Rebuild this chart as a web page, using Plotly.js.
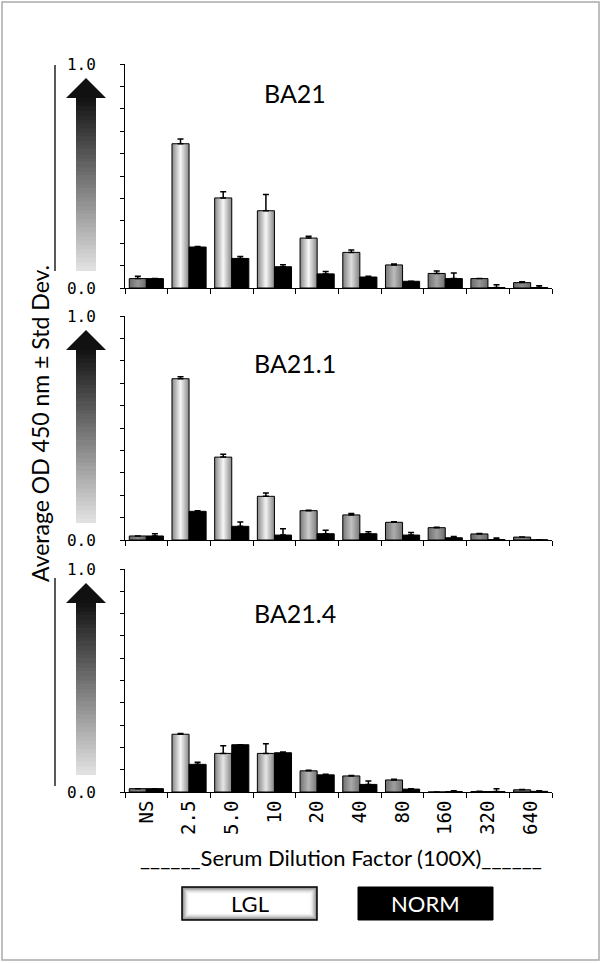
<!DOCTYPE html>
<html>
<head>
<meta charset="utf-8">
<script src="https://cdn.plot.ly/plotly-3.0.1.min.js"></script>
<style>
  body { margin: 0; background: #fff; }
  #plot { width: 601px; height: 963px; }
</style>
</head>
<body>
<div id="plot"></div>
<script>
// dilution categories (x axis)
let dilutions = ['NS', '2.5', '5.0', '10', '20', '40', '80', '160', '320', '640']

// BA21
let lglBA21 = [0.042, 0.644, 0.402, 0.345, 0.223, 0.159, 0.103, 0.065, 0.042, 0.024]
let lglBA21Sd = [0.010, 0.021, 0.028, 0.072, 0.008, 0.011, 0.004, 0.011, 0.0, 0.004]
let normBA21 = [0.042, 0.183, 0.132, 0.095, 0.063, 0.049, 0.030, 0.042, 0.002, 0.002]
let normBA21Sd = [0.0, 0.002, 0.009, 0.009, 0.011, 0.003, 0.0, 0.025, 0.013, 0.008]

// BA21.1
let lglBA211 = [0.018, 0.720, 0.370, 0.195, 0.131, 0.112, 0.079, 0.055, 0.027, 0.013]
let lglBA211Sd = [0.0, 0.009, 0.013, 0.015, 0.002, 0.006, 0.002, 0.002, 0.002, 0.0]
let normBA211 = [0.018, 0.128, 0.061, 0.022, 0.028, 0.028, 0.022, 0.010, 0.002, 0.001]
let normBA211Sd = [0.010, 0.003, 0.019, 0.028, 0.015, 0.009, 0.011, 0.006, 0.007, 0.0]

// BA21.4
let lglBA214 = [0.015, 0.259, 0.173, 0.173, 0.095, 0.072, 0.054, 0.0, 0.002, 0.010]
let lglBA214Sd = [0.0, 0.003, 0.034, 0.043, 0.003, 0.002, 0.003, 0.0, 0.001, 0.001]
let normBA214 = [0.015, 0.124, 0.212, 0.176, 0.077, 0.034, 0.013, 0.002, 0.002, 0.003]
let normBA214Sd = [0.0, 0.009, 0.0, 0.003, 0.003, 0.015, 0.002, 0.004, 0.013, 0.003]

let panelNames = ['BA21', 'BA21.1', 'BA21.4']
let yTickVals = [0, 0.1, 0.2, 0.3, 0.4, 0.5, 0.6, 0.7, 0.8, 0.9, 1.0]
let yTickText = ['0.0', '', '', '', '', '', '', '', '', '', '1.0']

// lgl bars get a sentinel colour, replaced with a gradient after drawing
let LGL_COLOR = 'rgb(221, 221, 221)'
let zeros = dilutions.map(d => 0)

function barTrace(values, sd, color, xa, ya) {
    return {
        type: 'bar',
        x: dilutions,
        y: values,
        xaxis: xa,
        yaxis: ya,
        marker: { color: color, line: { color: '#000', width: 1 } },
        error_y: { type: 'data', symmetric: false, array: sd, arrayminus: zeros,
                   color: '#000', thickness: 1.5, width: 3 },
        showlegend: false,
        hoverinfo: 'none'
    }
}

let data = [
    barTrace(lglBA21, lglBA21Sd, LGL_COLOR, 'x', 'y'),
    barTrace(normBA21, normBA21Sd, '#000', 'x', 'y'),
    barTrace(lglBA211, lglBA211Sd, LGL_COLOR, 'x2', 'y2'),
    barTrace(normBA211, normBA211Sd, '#000', 'x2', 'y2'),
    barTrace(lglBA214, lglBA214Sd, LGL_COLOR, 'x3', 'y3'),
    barTrace(normBA214, normBA214Sd, '#000', 'x3', 'y3')
]

// pixel helpers (plot area 125..552 x 64..792)
let L = 125, R = 49, T = 64, B = 171, W = 601, H = 963
let pw = W - L - R, ph = H - T - B
let px = v => (v - L) / pw
let py = v => (H - B - v) / ph

let panelTop = [64, 316, 569]
let panelBottom = [288, 540, 792]

function xAxis(anchor, labels) {
    return {
        type: 'category', anchor: anchor, domain: [0, 1],
        showline: true, linecolor: '#000', linewidth: 1,
        ticks: 'outside', ticklen: 5, tickcolor: '#000', tickson: 'boundaries',
        showticklabels: labels, tickangle: -90,
        tickfont: { family: 'DejaVu Sans Mono', size: 19, color: '#000' },
        showgrid: false, zeroline: false, fixedrange: true
    }
}

function yAxis(anchor, i) {
    return {
        anchor: anchor, range: [0, 1],
        domain: [py(panelBottom[i]), py(panelTop[i])],
        showline: true, linecolor: '#000', linewidth: 1,
        ticks: 'outside', ticklen: 4, tickcolor: '#000',
        tickvals: yTickVals, ticktext: yTickText, ticklabelstandoff: 21,
        tickfont: { family: 'DejaVu Sans Mono', size: 16, color: '#000' },
        showgrid: false, zeroline: false, fixedrange: true
    }
}

let shapes = []
let annotations = []

function label(x, y, text, size, color, angle) {
    annotations.push({
        xref: 'paper', yref: 'paper', x: px(x), y: py(y),
        xanchor: 'center', yanchor: 'middle',
        text: text, showarrow: false, textangle: angle || 0,
        font: { family: 'Lato', size: size, color: color }
    })
}

// gradient arrows next to each y axis
for (let i = 0; i < 3; i++) {
    let tip = panelTop[i] + 14
    let headBase = panelTop[i] + 34
    let shaftBottom = panelBottom[i] - 17
    let n = 40
    let step = (shaftBottom - headBase) / n
    for (let k = 0; k < n; k++) {
        let t = k / (n - 1)
        let g = Math.round(225 - t * 205)
        let c = 'rgb(' + g + ',' + g + ',' + g + ')'
        let y0 = shaftBottom - k * step
        shapes.push({
            type: 'rect', xref: 'paper', yref: 'paper',
            x0: px(76), x1: px(96), y0: py(y0), y1: py(y0 - step - 0.6),
            fillcolor: c, line: { width: 0 }, layer: 'above'
        })
    }
    shapes.push({
        type: 'path', xref: 'paper', yref: 'paper',
        path: 'M ' + px(66) + ' ' + py(headBase) + ' L ' + px(86) + ' ' + py(tip) +
              ' L ' + px(106) + ' ' + py(headBase) + ' Z',
        fillcolor: '#111', line: { width: 0 }
    })
    label(295, [93, 363, 613][i], panelNames[i], 25, '#000')
}

// y title with its underline strokes
label(40, 424, 'Average OD 450 nm ± Std Dev.', 23, '#000', -90)
shapes.push({ type: 'line', xref: 'paper', yref: 'paper', x0: px(55), x1: px(55),
              y0: py(65), y1: py(271), line: { color: '#222', width: 1.5 } })
shapes.push({ type: 'line', xref: 'paper', yref: 'paper', x0: px(55), x1: px(55),
              y0: py(578), y1: py(786), line: { color: '#222', width: 1.5 } })

// x title
label(341, 858, '______Serum Dilution Factor (100X)______', 22, '#000')

// legend boxes
let lglGrays = [135, 165, 195, 220, 240, 250, 255]
lglGrays.forEach((g, k) => {
    shapes.push({
        type: 'rect', xref: 'paper', yref: 'paper',
        x0: px(182 + k * 1.2), x1: px(317 - k * 1.2), y0: py(920 - k * 1.2), y1: py(887 + k * 1.2),
        fillcolor: 'rgb(' + g + ',' + g + ',' + g + ')', line: { width: 0 }
    })
})
shapes.push({ type: 'rect', xref: 'paper', yref: 'paper', x0: px(182), x1: px(317),
              y0: py(920), y1: py(887), line: { color: '#000', width: 1.5 } })
shapes.push({ type: 'rect', xref: 'paper', yref: 'paper', x0: px(358), x1: px(493),
              y0: py(920), y1: py(887), fillcolor: '#000', line: { color: '#000', width: 1 } })
label(250, 904, 'LGL', 22, '#000')
label(425, 904, 'NORM', 22, '#fff')

// outer frame
shapes.push({ type: 'rect', xref: 'paper', yref: 'paper', x0: px(2), x1: px(599),
              y0: py(960), y1: py(2), line: { color: '#aaa', width: 1.5 } })

let layout = {
    width: W, height: H,
    margin: { l: L, r: R, t: T, b: B },
    paper_bgcolor: '#fff', plot_bgcolor: 'rgba(0,0,0,0)',
    barmode: 'group', bargap: 0.2, bargroupgap: 0,
    showlegend: false,
    xaxis: xAxis('y', false),
    xaxis2: xAxis('y2', false),
    xaxis3: xAxis('y3', true),
    yaxis: yAxis('x', 0),
    yaxis2: yAxis('x2', 1),
    yaxis3: yAxis('x3', 2),
    shapes: shapes,
    annotations: annotations
}

Plotly.newPlot('plot', data, layout, { staticPlot: true }).then(gd => {
    // give the LGL bars their shaded cylinder look
    let svg = gd.querySelector('.main-svg')
    let ns = 'http://www.w3.org/2000/svg'
    let defs = svg.querySelector('defs')
    gd.querySelectorAll('.barlayer .point path').forEach((p, i) => {
        if (p.style.fill !== LGL_COLOR) return
        let h = p.getBBox().height
        let f = Math.min(1, h / 45)
        let edge = Math.round(100 + 35 * f)
        let mid = Math.round(125 + 122 * f)
        let grad = document.createElementNS(ns, 'linearGradient')
        grad.setAttribute('id', 'lglGrad' + i)
        grad.setAttribute('x1', '0'); grad.setAttribute('y1', '0')
        grad.setAttribute('x2', '1'); grad.setAttribute('y2', '0')
        ;[[0, edge], [0.5, mid], [1, edge]].forEach(s => {
            let stop = document.createElementNS(ns, 'stop')
            stop.setAttribute('offset', s[0])
            stop.setAttribute('stop-color', 'rgb(' + s[1] + ',' + s[1] + ',' + s[1] + ')')
            grad.appendChild(stop)
        })
        defs.appendChild(grad)
        p.style.fill = 'url(#lglGrad' + i + ')'
    })
})
</script>
</body>
</html>
